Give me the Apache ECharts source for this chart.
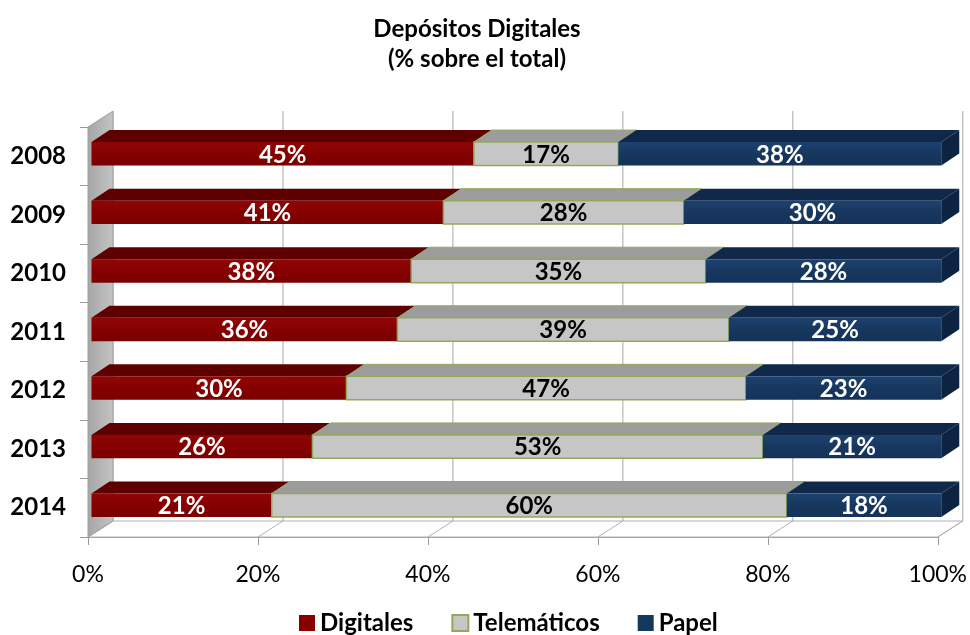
<!DOCTYPE html>
<html>
<head>
<meta charset="utf-8">
<script src="https://cdn.jsdelivr.net/npm/echarts@6/dist/echarts.min.js"></script>
<style>
  html, body { margin: 0; padding: 0; background: #fff; }
  #chart { width: 970px; height: 635px; }
</style>
</head>
<body>
<div id="chart"></div>
<script>
const years = ['2008', '2009', '2010', '2011', '2012', '2013', '2014'];
const digitales = [45, 41, 38, 36, 30, 26, 21];
const telematicos = [17, 28, 35, 39, 47, 53, 60];
const papel = [38, 30, 28, 25, 23, 21, 18];
const xTicks = [0, 20, 40, 60, 80, 100];

// 3D look: depth of the chart box and of each bar
const WALL_DX = 25, WALL_DY = -16;
const BAR_DX = 18, BAR_DY = -12;
const BAR_OX = 3.5, BAR_OY = -2.5;

// Excel "100% stacked": each row is spread over the full width
function rows(values, before) {
    return years.map((y, i) => {
        const total = digitales[i] + telematicos[i] + papel[i];
        let start = 0;
        before.forEach(arr => { start += arr[i]; });
        const s = start / total * 100;
        const e = (start + values[i]) / total * 100;
        return [s, e, i, values[i]];
    });
}

function segment(name, values, before, c, last) {
    return {
        type: 'custom',
        name: name,
        coordinateSystem: 'cartesian2d',
        itemStyle: { color: c.front, borderColor: c.border || c.front, borderWidth: c.border ? 2 : 0 },
        encode: { x: [0, 1], y: 2 },
        data: rows(values, before),
        z: 3,
        renderItem: function (params, api) {
            const p0 = api.coord([api.value(0), api.value(2)]);
            const p1 = api.coord([api.value(1), api.value(2)]);
            const band = api.size([0, 1])[1];
            const h = band * 0.4;
            const x0 = p0[0] + BAR_OX, x1 = p1[0] + BAR_OX;
            const cy = p0[1] + BAR_OY;
            const yT = cy - h / 2, yB = cy + h / 2;
            const kids = [
                {
                    type: 'polygon',
                    shape: { points: [[x0, yT], [x1, yT], [x1 + BAR_DX, yT + BAR_DY], [x0 + BAR_DX, yT + BAR_DY]] },
                    style: { fill: c.top, stroke: c.border || null, lineWidth: c.border ? 1 : 0 }
                },
                {
                    type: 'rect',
                    shape: { x: x0, y: yT, width: x1 - x0, height: yB - yT },
                    style: {
                        fill: c.grad ? new echarts.graphic.LinearGradient(0, 0, 0, 1, [
                            { offset: 0, color: c.grad[0] }, { offset: 0.5, color: c.front }, { offset: 1, color: c.grad[1] }
                        ]) : c.front,
                        stroke: c.border || null, lineWidth: c.border ? 1.5 : 0
                    }
                }
            ];
            if (last) {
                kids.push({
                    type: 'polygon',
                    shape: { points: [[x1, yT], [x1 + BAR_DX, yT + BAR_DY], [x1 + BAR_DX, yB + BAR_DY], [x1, yB]] },
                    style: { fill: c.side }
                });
            }
            kids.push({
                type: 'text',
                style: {
                    text: api.value(3) + '%',
                    x: (x0 + x1) / 2, y: cy + 1,
                    align: 'center', verticalAlign: 'middle',
                    fill: c.label, font: 'bold 24px Lato'
                }
            });
            return { type: 'group', children: kids };
        }
    };
}

// back wall, left wall and floor
const frame = {
    type: 'custom',
    name: 'frame',
    coordinateSystem: 'cartesian2d',
    encode: { x: 0, y: 1 },
    data: [[0, 0]],
    silent: true,
    z: 1,
    renderItem: function (params, api) {
        const g = params.coordSys;
        const L = g.x, T = g.y, R = g.x + g.width, B = g.y + g.height;
        const kids = [];
        kids.push({
            type: 'polygon',
            shape: { points: [[L, B], [R, B], [R + WALL_DX, B + WALL_DY], [L + WALL_DX, B + WALL_DY]] },
            style: { fill: '#ffffff', stroke: '#b0b0b0', lineWidth: 1 }
        });
        xTicks.forEach(v => {
            const x = api.coord([v, 0])[0];
            kids.push({
                type: 'line',
                shape: { x1: x + WALL_DX, y1: T + WALL_DY, x2: x + WALL_DX, y2: B + WALL_DY },
                style: { stroke: '#a8a8a8', lineWidth: 1 }
            });
            kids.push({
                type: 'line',
                shape: { x1: x, y1: B, x2: x + WALL_DX, y2: B + WALL_DY },
                style: { stroke: '#b0b0b0', lineWidth: 1 }
            });
        });
        kids.push({
            type: 'polygon',
            shape: { points: [[L, T], [L + WALL_DX, T + WALL_DY], [L + WALL_DX, B + WALL_DY], [L, B]] },
            style: {
                fill: new echarts.graphic.LinearGradient(0, 0, 1, 0, [
                    { offset: 0, color: '#a5a5a5' }, { offset: 1, color: '#c4c4c4' }
                ]),
                stroke: '#a0a0a0', lineWidth: 1
            }
        });
        return { type: 'group', children: kids };
    }
};

const chart = echarts.init(document.getElementById('chart'));
chart.setOption({
    backgroundColor: '#ffffff',
    animation: false,
    title: {
        text: 'Depósitos Digitales\n(% sobre el total)',
        left: 472,
        textAlign: 'center',
        top: 9,
        textStyle: { fontFamily: 'Lato', fontWeight: 'bold', fontSize: 24, lineHeight: 30, color: '#000' }
    },
    legend: {
        data: ['Digitales', 'Telemáticos', 'Papel'],
        top: 606,
        left: 294,
        icon: 'rect',
        itemWidth: 16,
        itemHeight: 16,
        itemGap: 38,
        textStyle: { fontFamily: 'Lato', fontWeight: 'bold', fontSize: 24, color: '#000' }
    },
    grid: { left: 88, right: 30, top: 127, bottom: 98 },
    xAxis: {
        type: 'value',
        min: 0,
        max: 100,
        interval: 20,
        axisLine: { show: true, lineStyle: { color: '#9a9a9a' } },
        axisTick: { show: true, length: 8, lineStyle: { color: '#9a9a9a' } },
        splitLine: { show: false },
        axisLabel: { formatter: '{value}%', fontFamily: 'Lato', fontSize: 23, color: '#000', margin: 26 }
    },
    yAxis: {
        type: 'category',
        inverse: true,
        data: years,
        axisLine: { show: true, lineStyle: { color: '#9a9a9a' } },
        axisTick: { show: true, length: 8, lineStyle: { color: '#9a9a9a' } },
        axisLabel: { fontFamily: 'Lato', fontWeight: 'bold', fontSize: 24, color: '#000', margin: 22 }
    },
    series: [
        frame,
        segment('Digitales', digitales, [],
            { front: '#860000', top: '#5e0000', grad: ['#8f0606', '#7a0000'], label: '#ffffff' }, false),
        segment('Telemáticos', telematicos, [digitales],
            { front: '#c6c6c6', top: '#9c9c9c', border: '#93a95a', label: '#000000' }, false),
        segment('Papel', papel, [digitales, telematicos],
            { front: '#17375e', top: '#10294a', side: '#0d2342', grad: ['#1d4270', '#15325a'], label: '#ffffff' }, true)
    ]
});
</script>
</body>
</html>
